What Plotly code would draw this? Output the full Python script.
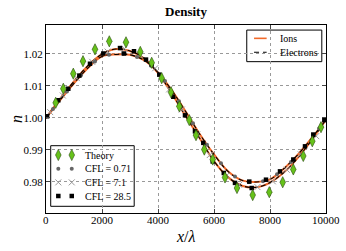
import plotly.graph_objects as go

# curve samples
line_x = [0, 500, 1000, 1500, 2000, 2500, 3000, 3500, 4000, 4500, 5000,
          5500, 6000, 6500, 7000, 7500, 8000, 8500, 9000, 9500, 10000]
curve_a = [1.0000, 1.0059, 1.0114, 1.0163, 1.0199, 1.0215, 1.0209, 1.0186, 1.0140, 1.0075, 1.0004,
           0.9935, 0.9865, 0.9815, 0.9788, 0.9783, 0.9798, 0.9830, 0.9876, 0.9932, 0.9995]
curve_b = [1.0000, 1.0055, 1.0108, 1.0156, 1.0192, 1.0198, 1.0197, 1.0180, 1.0142, 1.0085, 1.0018,
           0.9948, 0.9886, 0.9833, 0.9805, 0.9800, 0.9808, 0.9842, 0.9886, 0.9938, 0.9995]

theory_x = [346, 618, 975, 1321, 1750, 2261, 2857, 3368, 3775, 4132, 4464, 4761, 5118,
            5357, 5654, 5954, 6393, 6821, 7382, 7975, 8454, 8832, 9189, 9511, 9821]
theory_y = [1.0047, 1.0091, 1.0138, 1.0177, 1.0214, 1.0239, 1.0236, 1.0206, 1.0172, 1.0124, 1.0080, 1.0036, 0.9993,
            0.9946, 0.9901, 0.9870, 0.9814, 0.9781, 0.9759, 0.9768, 0.9799, 0.9839, 0.9881, 0.9927, 0.9971]

cfl071_x = [250, 750, 1250, 1750, 2250, 2750, 3250, 3750, 4250, 4750, 5250, 5750, 6250, 6750,
            7250, 7750, 8250, 8750, 9250, 9750]
cfl071_y = [1.0028, 1.0082, 1.0133, 1.0176, 1.0197, 1.0200, 1.0190, 1.0163, 1.0115, 1.0052, 0.9983, 0.9916,
            0.9858, 0.9817, 0.9800, 0.9802, 0.9824, 0.9862, 0.9912, 0.9967]

cfl71_x = [150, 600, 1100, 1650, 2200, 2800, 3350, 3900, 4400, 4850, 5400, 5850, 6450, 6900,
           7550, 8100, 8600, 9100, 9650]
cfl71_y = [1.0018, 1.0070, 1.0124, 1.0175, 1.0207, 1.0216, 1.0197, 1.0155, 1.0089, 1.0026, 0.9948, 0.9884,
           0.9820, 0.9791, 0.9784, 0.9802, 0.9838, 0.9886, 0.9943]

cfl285_x = [40, 440, 796, 1190, 1571, 2046, 2643, 2786, 3143, 3571, 3775, 4046, 4546, 4964, 5321, 5618,
            5954, 6350, 6750, 7260, 7346, 7857, 8357, 8832, 9250, 9546, 9940]
cfl285_y = [1.0005, 1.0055, 1.0091, 1.0132, 1.0169, 1.0201, 1.0218, 1.0201, 1.0208, 1.0182, 1.0167, 1.0135,
            1.0066, 1.0008, 0.9958, 0.9922, 0.9864, 0.9828, 0.9797, 0.9801, 0.9781, 0.9807, 0.9833, 0.9870,
            0.9911, 0.9948, 0.9993]

x_ticks = [0, 2000, 4000, 6000, 8000, 10000]
x_tick_text = ["0", "2000", "4000", "6000", "8000", "10000"]
y_ticks = [0.98, 0.99, 1.00, 1.01, 1.02]
y_tick_text = ["0.98", "0.99", "1.00", "1.01", "1.02"]

legend1_labels = ["Ions", "Electrons"]
legend2_labels = ["Theory", "CFL = 0.71", "CFL = 7.1", "CFL = 28.5"]

ORANGE = "#f26a2a"
SERIF = "Liberation Serif"
GREEN = "#66c21a"

STY_THEORY = dict(symbol="diamond-tall", size=8, color=GREEN, line=dict(color="#2a4a10", width=0.6))
STY_071 = dict(symbol="circle", size=4, color="#666666")
STY_71 = dict(symbol="x-thin", size=6, line=dict(color="#999999", width=1))
STY_285 = dict(symbol="square", size=4.5, color="black")

fig = go.Figure()
for cy in [curve_a, curve_b]:
    fig.add_trace(go.Scatter(x=line_x, y=cy, mode="lines", line=dict(color=ORANGE, width=2.0, shape="spline"),
                             showlegend=False))
for cy in [curve_a, curve_b]:
    fig.add_trace(go.Scatter(x=line_x, y=cy, mode="lines",
                             line=dict(color="black", width=1.1, dash="5px,3px", shape="spline"),
                             showlegend=False))

fig.add_trace(go.Scatter(x=cfl71_x, y=cfl71_y, mode="markers", marker=STY_71, showlegend=False))
fig.add_trace(go.Scatter(x=cfl071_x, y=cfl071_y, mode="markers", marker=STY_071, showlegend=False))
fig.add_trace(go.Scatter(x=cfl285_x, y=cfl285_y, mode="markers", marker=STY_285, showlegend=False))
fig.add_trace(go.Scatter(x=theory_x, y=theory_y, mode="markers", marker=STY_THEORY, showlegend=False))

shapes = []
annotations = []

# title and axis titles
annotations.append(dict(text="<b>Density</b>", xref="paper", yref="paper", x=0.5, y=1, yshift=14,
                        xanchor="center", yanchor="middle", showarrow=False, font=dict(family=SERIF, size=13)))
annotations.append(dict(text="<i>x</i>/<i>λ</i>", xref="paper", yref="paper", x=0.5, y=0, yshift=-23,
                        xanchor="center", yanchor="middle", showarrow=False, font=dict(family=SERIF, size=16)))
annotations.append(dict(text="<i>n</i>", xref="paper", yref="paper", x=0, y=0.5, xshift=-30, textangle=-90,
                        xanchor="center", yanchor="middle", showarrow=False, font=dict(family=SERIF, size=16)))
# x tick labels
for xv, xt in zip(x_ticks, x_tick_text):
    annotations.append(dict(text=xt, xref="x", yref="paper", x=xv, y=0, yshift=1, xanchor="center",
                            yanchor="top", showarrow=False, font=dict(family=SERIF, size=11)))

# legend 1
shapes.append(dict(type="rect", xref="paper", yref="paper", x0=0.717, x1=0.985, y0=0.805, y1=0.973,
                   line=dict(color="black", width=1), fillcolor="white", layer="between"))
l1_y = [0.929, 0.855]
shapes.append(dict(type="line", xref="paper", yref="paper", x0=0.743, x1=0.788, y0=l1_y[0], y1=l1_y[0],
                   line=dict(color=ORANGE, width=1.6), layer="above"))
shapes.append(dict(type="line", xref="paper", yref="paper", x0=0.743, x1=0.788, y0=l1_y[1], y1=l1_y[1],
                   line=dict(color="black", width=1.2, dash="5px,4px"), layer="above"))
for lab, yy in zip(legend1_labels, l1_y):
    annotations.append(dict(text=lab, xref="paper", yref="paper", x=0.829, y=yy, xanchor="left",
                            yanchor="middle", showarrow=False, font=dict(family=SERIF, size=10)))
# legend 2
shapes.append(dict(type="rect", xref="paper", yref="paper", x0=0.0168, x1=0.315, y0=0.0356, y1=0.358,
                   line=dict(color="black", width=1), fillcolor="white", layer="between"))
l2_y = [0.3085, 0.2358, 0.163, 0.0904]
for lab, yy in zip(legend2_labels, l2_y):
    annotations.append(dict(text=lab, xref="paper", yref="paper", x=0.132, y=yy, xanchor="left",
                            yanchor="middle", showarrow=False, font=dict(family=SERIF, size=10)))
for sty, yy in zip([STY_THEORY, STY_071, STY_71, STY_285], l2_y):
    fig.add_trace(go.Scatter(x=[0.044, 0.092], y=[yy, yy], mode="markers", marker=sty,
                             xaxis="x2", yaxis="y2", showlegend=False, hoverinfo="skip"))

fig.update_layout(
    width=346, height=251,
    margin=dict(l=46, r=20, t=25, b=38, autoexpand=False),
    paper_bgcolor="white", plot_bgcolor="white",
    font=dict(family=SERIF, size=11, color="black"),
    showlegend=False,
    shapes=shapes, annotations=annotations,
    xaxis=dict(range=[0, 10000], tickvals=x_ticks, showticklabels=False, ticks="inside", ticklen=4,
               showline=True, linecolor="black", linewidth=1, mirror="ticks", showgrid=True,
               gridcolor="#999999", griddash="dot", gridwidth=1, zeroline=False, automargin=False),
    yaxis=dict(range=[0.9703, 1.029], tickvals=y_ticks, ticktext=y_tick_text, ticks="inside", ticklen=4,
               showline=True, linecolor="black", linewidth=1, mirror="ticks", showgrid=True,
               gridcolor="#999999", griddash="dot", gridwidth=1, zeroline=False, automargin=False,
               tickfont=dict(family=SERIF, size=11)),
    xaxis2=dict(range=[0, 1], overlaying="x", visible=False),
    yaxis2=dict(range=[0, 1], overlaying="y", visible=False),
)

fig.write_html("out.html", config=dict(displayModeBar=False),
               post_script="document.body.style.margin='0';document.body.style.padding='0';")
